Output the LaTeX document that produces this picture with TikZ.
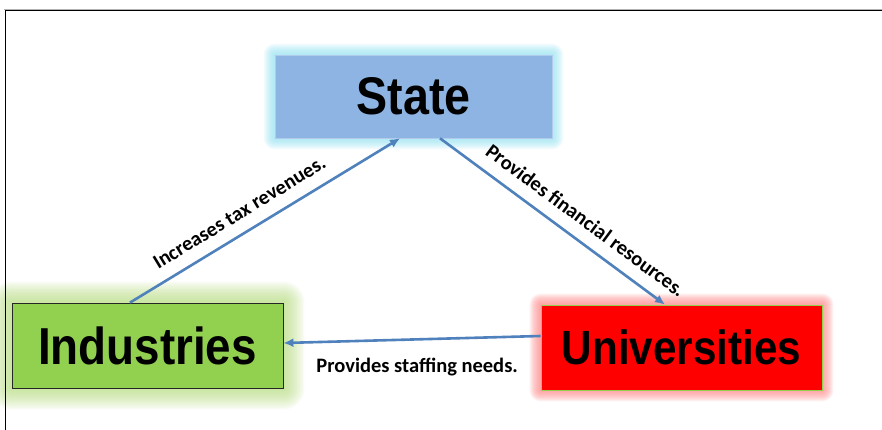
\documentclass[tikz,border=0pt]{standalone}
\usepackage{fontspec}
\setmainfont{Liberation Sans}
\newfontfamily\boxfont{Liberation Sans}[FakeStretch=0.88]
\newfontfamily\labfont{Carlito}
\usetikzlibrary{arrows.meta,backgrounds}
\definecolor{stfill}{HTML}{8EB4E3}
\definecolor{stglow}{HTML}{8FE3F5}
\definecolor{infill}{HTML}{92D050}
\definecolor{inglow}{HTML}{B5DE7A}
\definecolor{unfill}{HTML}{FF0000}
\definecolor{unglow}{HTML}{FF7F7F}
\definecolor{arrowblue}{HTML}{4F81BD}
\tikzset{
  mainbox/.style={rectangle, minimum height=84pt, inner sep=0pt, font=\boxfont\bfseries\fontsize{50}{56}\selectfont, text=black},
  flow/.style={draw=arrowblue, line width=2.6pt, -{Latex[length=10pt,width=9pt]}},
  flowlabel/.style={font=\labfont\bfseries\fontsize{20.5}{24}\selectfont, inner sep=0pt, text=black}
}
\newcommand\myglow[4]{%
  \begin{scope}[on background layer]
    \foreach \r in {#3} {
      \fill[#2, opacity=#4, rounded corners=\r pt]
        ([shift={(-\r pt,\r pt)}]#1.north west) rectangle ([shift={(\r pt,-\r pt)}]#1.south east);
    }
  \end{scope}}
\begin{document}
\begin{tikzpicture}[x=1pt,y=-1pt]
  \useasboundingbox (0,0) rectangle (882,430);
  % frame
  \draw[gray!60, line width=0.8pt] (4,9) -- (882,9);
  \draw[black, line width=1.2pt] (5.5,430) -- (5.5,10.5) -- (882,10.5);
  % boxes
  \node[mainbox, fill=stfill, draw=stfill!70!white, line width=0.6pt, minimum width=277pt, minimum height=83pt, font=\boxfont\bfseries\fontsize{53}{58}\selectfont] (st) at (413.5,96.5) {State};
  \node[mainbox, fill=infill, draw=black!85, line width=0.8pt, minimum width=271pt, minimum height=85pt, font=\boxfont\bfseries\fontsize{52}{58}\selectfont] (ind) at (147.5,345.5) {Industries};
  \node[mainbox, fill=unfill, draw=infill, line width=0.8pt, minimum width=281pt, minimum height=85pt, font=\boxfont\bfseries\fontsize{48}{54}\selectfont] (uni) at (681.5,347.5) {Universities};
  \begin{scope}[on background layer]
    \fill[white] (0,0) rectangle (882,430);
  \end{scope}
  \myglow{st}{stglow}{1,2,...,11}{0.09}
  \myglow{ind}{inglow}{1.5,3,...,21}{0.07}
  \myglow{uni}{unglow}{1,2,...,11}{0.09}
  % connectors
  \draw[flow] ([xshift=-17.5pt]ind.north) -- ([xshift=-13.5pt]st.south)
    node[flowlabel, sloped, pos=0.444, anchor=south, above=12pt] (l1) {Increases tax revenues.};
  \draw[flow] ([xshift=26.5pt]st.south) -- ([xshift=-16.5pt]uni.north)
    node[flowlabel, sloped, pos=0.594, anchor=south, above=12pt] (l2) {Provides financial resources.};
  \draw[flow] ([yshift=11.5pt]uni.west) -- ([yshift=2.5pt]ind.east)
    node[flowlabel, pos=0.48, below=17pt] (l3) {Provides staffing needs.};
\end{tikzpicture}
\end{document}
